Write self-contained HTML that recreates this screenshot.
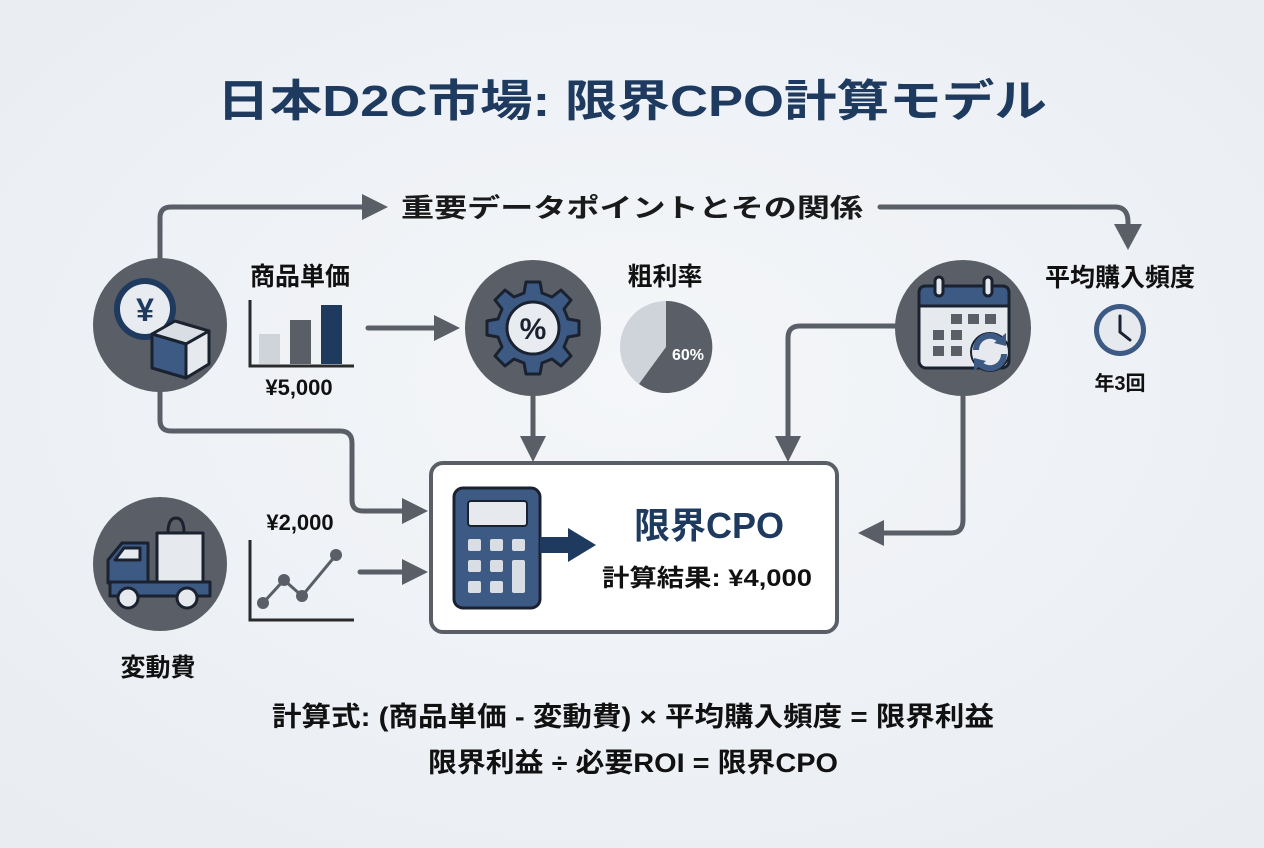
<!DOCTYPE html>
<html><head><meta charset="utf-8"><style>
html,body{margin:0;padding:0;background:#eef1f5;}
svg{display:block;font-family:"Liberation Sans","Noto Sans CJK JP",sans-serif;}
</style></head><body>
<svg width="1264" height="848" viewBox="0 0 1264 848" xmlns="http://www.w3.org/2000/svg">
<defs>
<radialGradient id="bg" cx="50%" cy="45%" r="70%"><stop offset="0" stop-color="#f4f6f9"/><stop offset="1" stop-color="#e9edf2"/></radialGradient>
</defs>
<rect width="1264" height="848" fill="url(#bg)"/>
<text x="632" y="116" text-anchor="middle" font-size="44" font-weight="bold" fill="#1e3a5f" textLength="830" lengthAdjust="spacingAndGlyphs">日本D2C市場: 限界CPO計算モデル</text>

<g stroke="#5a5e66" stroke-width="5" fill="none" stroke-linecap="round" stroke-linejoin="round">
<!-- top -->
<path d="M160 258 V218 Q160 207 171 207 H372"/>
<path d="M880 207 H1115 Q1128 207 1128 222 V232"/>
<!-- yen down -->
<path d="M160 392 V420 Q160 431 171 431 H340 Q352 431 352 443 V500 Q352 511 363 511 H405"/>
<path d="M360 572 H405"/>
<path d="M368 328 H440"/>
<path d="M533 396 V440"/>
<path d="M895 326 H800 Q788 326 788 338 V440"/>
<path d="M963 396 V520 Q963 533 951 533 H880"/>
</g>
<g fill="#5a5e66">
<polygon points="388,207 362,194 362,220"/>
<polygon points="1128,250 1114,224 1142,224"/>
<polygon points="428,511 402,498 402,524"/>
<polygon points="428,572 402,559 402,585"/>
<polygon points="460,328 434,315 434,341"/>
<polygon points="533,462 520,436 546,436"/>
<polygon points="788,462 775,436 801,436"/>
<polygon points="858,533 884,520 884,546"/>
</g>
<text x="632" y="217" text-anchor="middle" font-size="26" font-weight="bold" fill="#1a1a1a" textLength="462" lengthAdjust="spacingAndGlyphs">重要データポイントとその関係</text>

<!-- yen circle -->
<circle cx="160" cy="325" r="67" fill="#5a5e66"/>
<circle cx="145" cy="309" r="31" fill="#1e3a5f"/>
<circle cx="145" cy="309" r="25" fill="#e8ebf0"/>
<text x="145" y="321" text-anchor="middle" font-size="32" font-weight="bold" fill="#1e3a5f">¥</text>
<g stroke="#1a2230" stroke-width="3" stroke-linejoin="round">
<polygon points="152,334 175,321 209,331 186,344" fill="#d9dde4"/>
<polygon points="152,334 186,344 186,378 152,368" fill="#3d5a85"/>
<polygon points="186,344 209,331 209,364 186,378" fill="#e6e9ee"/>
</g>
<!-- 商品単価 -->
<text x="300" y="285" text-anchor="middle" font-size="25" font-weight="bold" fill="#111">商品単価</text>
<g>
<rect x="259" y="334" width="21" height="30" fill="#cfd3da"/>
<rect x="290" y="320" width="21" height="44" fill="#5a5e66"/>
<rect x="321" y="305" width="21" height="59" fill="#1e3a5f"/>
<path d="M250 300 V366 H354" stroke="#2a2a2a" stroke-width="3" fill="none"/>
</g>
<text x="299" y="395" text-anchor="middle" font-size="22" font-weight="bold" fill="#111">¥5,000</text>

<!-- truck circle -->
<circle cx="160" cy="564" r="67" fill="#5a5e66"/>
<g stroke="#1a2230" stroke-width="3" stroke-linejoin="round">
<path d="M168 533 Q168 518 176 518 Q184 518 184 533" fill="none"/>
<rect x="157" y="533" width="46" height="50" fill="#e6e9ee"/>
<path d="M108 583 V560 L122 543 H148 V583 Z" fill="#3d5a85"/>
<rect x="110" y="582" width="100" height="14" fill="#3d5a85"/>
<polygon points="115,560 124,548 140,548 140,560" fill="#e6e9ee"/>
<circle cx="128" cy="598" r="10" fill="#e6e9ee"/>
<circle cx="187" cy="598" r="10" fill="#e6e9ee"/>
</g>
<text x="300" y="530" text-anchor="middle" font-size="22" font-weight="bold" fill="#111">¥2,000</text>
<path d="M250 540 V620 H354" stroke="#2a2a2a" stroke-width="3" fill="none"/>
<polyline points="263,603 284,580 302,596 336,555" stroke="#5a5e66" stroke-width="3" fill="none"/>
<g fill="#5a5e66"><circle cx="263" cy="603" r="6"/><circle cx="284" cy="580" r="6"/><circle cx="302" cy="596" r="6"/><circle cx="336" cy="555" r="6"/></g>
<text x="158" y="676" text-anchor="middle" font-size="25" font-weight="bold" fill="#111">変動費</text>

<!-- gear circle -->
<circle cx="533" cy="328" r="68" fill="#5a5e66"/>
<g transform="translate(533,328)">
<g fill="#3d5a85" stroke="#1a2230" stroke-width="3" stroke-linejoin="round">
<path d="M-7,-48 L7,-48 L9,-37 L19,-33 L28,-40 L38,-30 L31,-21 L35,-11 L46,-9 L46,5 L35,7 L31,17 L38,26 L28,36 L19,29 L9,33 L7,44 L-7,44 L-9,33 L-19,29 L-28,36 L-38,26 L-31,17 L-35,7 L-46,5 L-46,-9 L-35,-11 L-31,-21 L-38,-30 L-28,-40 L-19,-33 L-9,-37 Z" transform="translate(0,2)"/>
</g>
<circle cx="0" cy="0" r="26" fill="#e8ebf0" stroke="#1a2230" stroke-width="3"/>
<text x="0" y="11" text-anchor="middle" font-size="30" font-weight="bold" fill="#1a2230">%</text>
</g>
<text x="665" y="285" text-anchor="middle" font-size="25" font-weight="bold" fill="#111">粗利率</text>
<circle cx="666" cy="347" r="46" fill="#cfd3da"/>
<path d="M666 347 V301 A46 46 0 1 1 639 384 Z" fill="#5a5e66"/>
<text x="688" y="360" text-anchor="middle" font-size="16" font-weight="bold" fill="#fff">60%</text>

<!-- calendar circle -->
<circle cx="963" cy="328" r="68" fill="#5a5e66"/>
<g stroke="#1a2230" stroke-width="3" stroke-linejoin="round">
<rect x="919" y="286" width="90" height="82" rx="7" fill="#e6e9ee"/>
<path d="M919 306 V293 Q919 286 926 286 H1002 Q1009 286 1009 293 V306 Z" fill="#3d5a85"/>
<rect x="935" y="277" width="8" height="19" rx="4" fill="#e6e9ee"/>
<rect x="984" y="277" width="8" height="19" rx="4" fill="#e6e9ee"/>
</g>
<g fill="#5a5e66">
<rect x="951" y="314" width="11" height="10"/><rect x="968" y="314" width="11" height="10"/><rect x="985" y="314" width="11" height="10"/>
<rect x="933" y="330" width="11" height="10"/><rect x="951" y="330" width="11" height="10"/>
<rect x="933" y="346" width="11" height="10"/><rect x="951" y="346" width="11" height="10"/>
</g>
<circle cx="990" cy="352" r="19" fill="#e6e9ee" stroke="#1a2230" stroke-width="2"/>
<path d="M976 350 A14 14 0 0 1 1000 340" stroke="#3d5a85" stroke-width="6" fill="none"/>
<path d="M1004 354 A14 14 0 0 1 980 364" stroke="#3d5a85" stroke-width="6" fill="none"/>
<polygon points="1006,333 1006,346 994,343" fill="#3d5a85"/>
<polygon points="974,371 974,358 986,361" fill="#3d5a85"/>
<text x="1120" y="286" text-anchor="middle" font-size="25" font-weight="bold" fill="#111">平均購入頻度</text>
<circle cx="1120" cy="330" r="26" fill="#3d5a85"/>
<circle cx="1120" cy="330" r="21" fill="#e6e9ee"/>
<path d="M1120 316 V332 L1130 340" stroke="#1a2230" stroke-width="3" fill="none" stroke-linecap="round"/>
<text x="1120" y="390" text-anchor="middle" font-size="20" font-weight="bold" fill="#111">年3回</text>

<!-- main box -->
<rect x="431" y="463" width="406" height="169" rx="12" fill="#ffffff" stroke="#5a5e66" stroke-width="4"/>
<rect x="454" y="488" width="86" height="120" rx="9" fill="#3d5a85" stroke="#1a2230" stroke-width="3"/>
<rect x="468" y="501" width="59" height="25" rx="3" fill="#e6e9ee" stroke="#1a2230" stroke-width="2"/>
<g fill="#d9dde4">
<rect x="468" y="539" width="13" height="12" rx="2"/><rect x="490" y="539" width="13" height="12" rx="2"/><rect x="512" y="539" width="13" height="12" rx="2"/>
<rect x="468" y="560" width="13" height="12" rx="2"/><rect x="490" y="560" width="13" height="12" rx="2"/><rect x="512" y="560" width="13" height="33" rx="2"/>
<rect x="468" y="581" width="13" height="12" rx="2"/><rect x="490" y="581" width="13" height="12" rx="2"/>
</g>
<rect x="540" y="537" width="30" height="16" fill="#1e3a5f"/>
<polygon points="568,528 596,545 568,562" fill="#1e3a5f"/>
<text x="709" y="538" text-anchor="middle" font-size="36" font-weight="bold" fill="#1e3a5f">限界CPO</text>
<text x="707" y="586" text-anchor="middle" font-size="24" font-weight="bold" fill="#111" textLength="210" lengthAdjust="spacingAndGlyphs">計算結果: ¥4,000</text>

<!-- formulas -->
<text x="633" y="726" text-anchor="middle" font-size="27" font-weight="bold" fill="#111" textLength="722" lengthAdjust="spacingAndGlyphs">計算式: (商品単価 - 変動費) × 平均購入頻度 = 限界利益</text>
<text x="633" y="772" text-anchor="middle" font-size="27" font-weight="bold" fill="#111" textLength="410" lengthAdjust="spacingAndGlyphs">限界利益 ÷ 必要ROI = 限界CPO</text>
</svg>
</body></html>
